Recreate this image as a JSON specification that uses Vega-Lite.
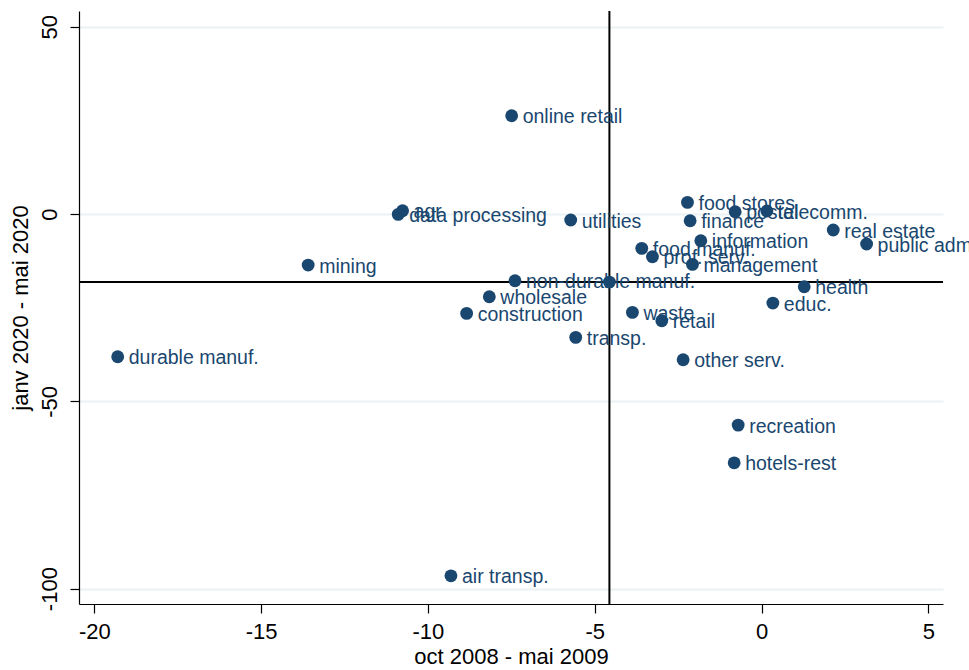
{
  "$schema": "https://vega.github.io/schema/vega-lite/v6.json",
  "autosize": "none",
  "width": 864,
  "height": 593,
  "padding": {"left": 79, "top": 11, "right": 26, "bottom": 66},
  "background": "white",
  "config": {
    "view": {"stroke": null},
    "font": "Liberation Sans",
    "axis": {
      "domainColor": "#000000",
      "domainWidth": 1.2,
      "tickColor": "#000000",
      "tickWidth": 1.2,
      "tickSize": 9,
      "labelFont": "Liberation Sans",
      "titleFont": "Liberation Sans",
      "labelFontSize": 22,
      "titleFontSize": 22,
      "labelColor": "#000000",
      "titleColor": "#000000",
      "titleFontWeight": "normal"
    }
  },
  "datasets": {
    "pts": [
      {"name": "online retail", "x": -7.49, "y": 26.25},
      {"name": "agr", "x": -10.76, "y": 0.88},
      {"name": "data processing", "x": -10.89, "y": -0.08},
      {"name": "utilities", "x": -5.72, "y": -1.6},
      {"name": "mining", "x": -13.59, "y": -13.62},
      {"name": "durable manuf.", "x": -19.3, "y": -38.1},
      {"name": "non-durable manuf.", "x": -7.39, "y": -17.81},
      {"name": "", "x": -4.56, "y": -18.16},
      {"name": "wholesale", "x": -8.16, "y": -22.08},
      {"name": "construction", "x": -8.84, "y": -26.52},
      {"name": "transp.", "x": -5.57, "y": -32.92},
      {"name": "waste", "x": -3.87, "y": -26.25},
      {"name": "retail", "x": -2.99, "y": -28.49},
      {"name": "other serv.", "x": -2.35, "y": -38.91},
      {"name": "food stores", "x": -2.22, "y": 3.12},
      {"name": "finance", "x": -2.14, "y": -1.79},
      {"name": "postal", "x": -0.79, "y": 0.61},
      {"name": "telecomm.", "x": 0.16, "y": 0.8},
      {"name": "real estate", "x": 2.15, "y": -4.27},
      {"name": "public adm.", "x": 3.15, "y": -8.01},
      {"name": "information", "x": -1.82, "y": -7.13},
      {"name": "food manuf.", "x": -3.59, "y": -9.16},
      {"name": "prof. serv.", "x": -3.27, "y": -11.4},
      {"name": "management", "x": -2.07, "y": -13.43},
      {"name": "health", "x": 1.28, "y": -19.41},
      {"name": "educ.", "x": 0.34, "y": -23.77},
      {"name": "recreation", "x": -0.7, "y": -56.34},
      {"name": "hotels-rest", "x": -0.82, "y": -66.41},
      {"name": "air transp.", "x": -9.31, "y": -96.58}
    ],
    "refs": [{"vx": -4.56, "hy": -18.16}]
  },
  "layer": [
    {
      "data": {"name": "refs"},
      "mark": {"type": "rule", "color": "#000000", "strokeWidth": 2},
      "encoding": {
        "x": {"field": "vx", "type": "quantitative", "scale": {"domain": [-20.46, 5.44], "nice": false, "zero": false},
          "axis": {"values": [-20, -15, -10, -5, 0, 5], "labelExpr": "datum.value + ''", "grid": false, "title": "oct 2008 - mai 2009", "labelPadding": 8, "titlePadding": 4}}
      }
    },
    {
      "data": {"name": "refs"},
      "mark": {"type": "rule", "color": "#000000", "strokeWidth": 2},
      "encoding": {
        "y": {"field": "hy", "type": "quantitative", "scale": {"domain": [-104.1, 54.2], "nice": false, "zero": false},
          "axis": {"values": [-100, -50, 0, 50], "labelExpr": "datum.value + ''", "grid": true, "gridColor": "#eaf2f3", "gridWidth": 2, "labelAngle": -90, "labelAlign": "center", "labelBaseline": "bottom", "labelPadding": 9, "title": "janv 2020 - mai 2020", "titlePadding": 6}}
      }
    },
    {
      "data": {"name": "pts"},
      "mark": {"type": "point", "filled": true, "size": 165, "opacity": 1, "color": "#1a476f"},
      "encoding": {
        "x": {"field": "x", "type": "quantitative"},
        "y": {"field": "y", "type": "quantitative"}
      }
    },
    {
      "data": {"name": "pts"},
      "mark": {"type": "text", "align": "left", "baseline": "alphabetic", "dx": 11, "dy": 7.5, "fontSize": 19.5, "color": "#1a476f", "font": "Liberation Sans"},
      "encoding": {
        "x": {"field": "x", "type": "quantitative"},
        "y": {"field": "y", "type": "quantitative"},
        "text": {"field": "name"}
      }
    }
  ]
}
